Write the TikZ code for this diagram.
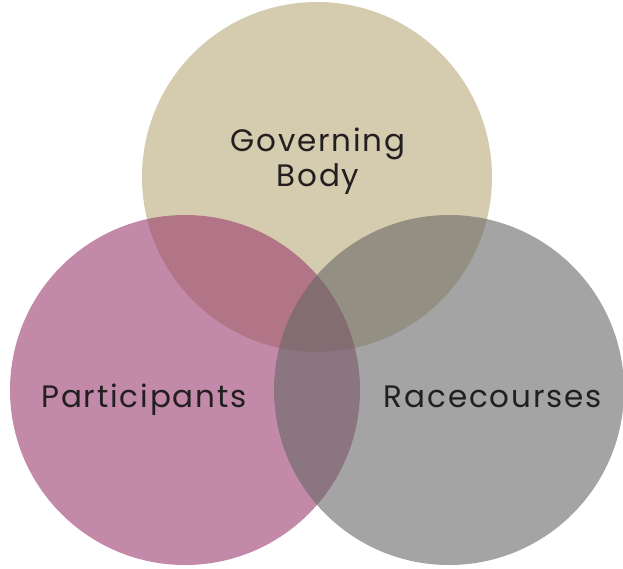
\documentclass[tikz,border=0pt]{standalone}
\usepackage{fontspec}
\setmainfont{Poppins}[LetterSpace=6]
\usepackage{tikz}

\definecolor{govtan}{RGB}{185,168,120}
\definecolor{partpink}{RGB}{153,60,110}
\definecolor{racegrey}{RGB}{103,103,103}
\definecolor{labelink}{RGB}{35,31,32}

\tikzset{
  venn/.style={circle,minimum size=350pt,inner sep=0pt,fill opacity=0.6},
  venntext/.style={text=labelink,font=\fontsize{31}{35}\selectfont,align=center,anchor=base,inner sep=0pt}
}

\begin{document}
\begin{tikzpicture}[x=1pt,y=-1pt]
  \useasboundingbox (0,0) rectangle (623,568);
  % the three sets
  \node[venn,fill=govtan]   (gov)  at (317,177) {};
  \node[venn,fill=partpink] (part) at (185,390) {};
  \node[venn,fill=racegrey] (race) at (449,390) {};
  % labels
  \node[venntext] (govlabel)  at (318,186) {Governing\\Body};
  \node[venntext] (partlabel) at (144,407) {Participants};
  \node[venntext] (racelabel) at (493,407) {Racecourses};
\end{tikzpicture}
\end{document}
